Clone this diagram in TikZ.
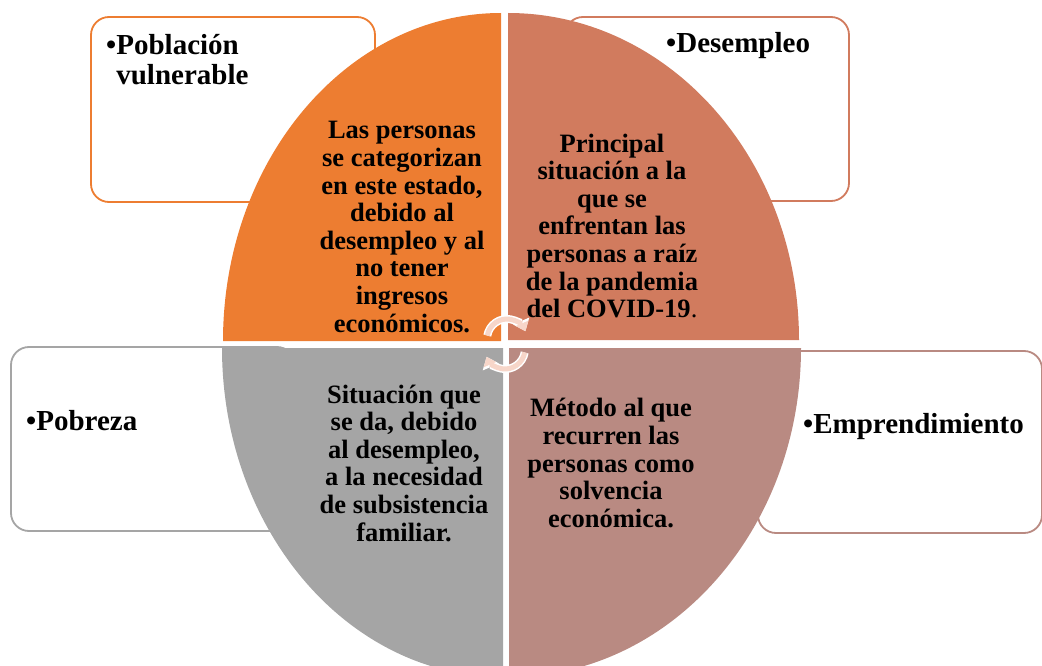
\documentclass[tikz,border=0pt]{standalone}
\usepackage{fontspec}
\setmainfont{Liberation Serif}
\usetikzlibrary{arrows.meta}

\definecolor{naranja}{HTML}{ED7D31}
\definecolor{terracota}{HTML}{D17B5E}
\definecolor{gris}{HTML}{A5A5A5}
\definecolor{rosado}{HTML}{B98A82}
\definecolor{durazno}{HTML}{F7D6C9}

\begin{document}
\begin{tikzpicture}[x=1pt, y=-1pt, line join=round,
    caja/.style={line width=1.8pt, rounded corners=18pt, fill=white},
    texto/.style={font=\fontsize{26.5}{27.6}\selectfont\bfseries, align=center, inner sep=0pt},
    punto/.style={font=\fontsize{29}{30}\selectfont\bfseries, align=left, inner sep=0pt},
    giro/.style={line width=8pt, white, -{Triangle[length=11pt, width=17pt]}},
    girofondo/.style={line width=5pt, durazno, -{Triangle[length=8.5pt, width=13pt]}}]
            \useasboundingbox (0,0) rectangle (1042,666);
            \clip (0,0) rectangle (1042,666);

            % cajas de fondo
            \draw [caja, draw=naranja] (91,17) rectangle (375,202);
            \draw [caja, draw=terracota] (565,17) rectangle (849,201);
            \draw [caja, draw=gris] (11,347) rectangle (295,531);
            \draw [caja, draw=rosado] (758,351) rectangle (1042,533);

            % cuartos de elipse
            \coordinate (A1) at (501,341);
            \coordinate (A2) at (508,340);
            \coordinate (A3) at (509,348);
            \coordinate (A4) at (503,348);
            \fill [naranja] (A1) -- ++(-278,0) arc[start angle=180, end angle=270, x radius=278, y radius=328] -- cycle;
            \fill [terracota] (A2) -- ++(0,-327) arc[start angle=270, end angle=360, x radius=291, y radius=327] -- cycle;
            \fill [rosado] (A3) -- ++(292,0) arc[start angle=0, end angle=90, x radius=292, y radius=329] -- cycle;
            \fill [gris] (A4) -- ++(0,329) arc[start angle=90, end angle=180, x radius=281, y radius=329] -- cycle;

            % flechas del centro
            \coordinate (C1) at (507,339);
            \coordinate (C2) at (505,349);
            \draw [giro] (C1) ++(190:20) arc[start angle=190, end angle=337, radius=20];
            \draw [girofondo] (C1) ++(190:20) arc[start angle=190, end angle=337, radius=20];
            \draw [giro] (C2) ++(10:20) arc[start angle=10, end angle=157, radius=20];
            \draw [girofondo] (C2) ++(10:20) arc[start angle=10, end angle=157, radius=20];

            % textos
            \node [texto] (vulnerable) at (402,227) {Las personas\\se categorizan\\en este estado,\\debido al\\desempleo y al\\no tener\\ingresos\\económicos.};
            \node [texto] (desempleo) at (612,226) {Principal\\situación a la\\que se\\enfrentan las\\personas a raíz\\de la pandemia\\del COVID-19{\mdseries .}};
            \node [texto] (pobreza) at (404,463) {Situación que\\se da, debido\\al desempleo,\\a la necesidad\\de subsistencia\\familiar.};
            \node [texto] (emprende) at (611,463) {Método al que\\recurren las\\personas como\\solvencia\\económica.};

            \node [punto, anchor=base west] (pv) at (106,85) {•Población\\\hphantom{•}vulnerable};
            \node [punto, anchor=base west] (de) at (666,53) {•Desempleo};
            \node [punto, anchor=base west] (po) at (26,430) {•Pobreza};
            \node [punto, anchor=base west] (em) at (803,433) {•Emprendimiento};
        \end{tikzpicture}
\end{document}
